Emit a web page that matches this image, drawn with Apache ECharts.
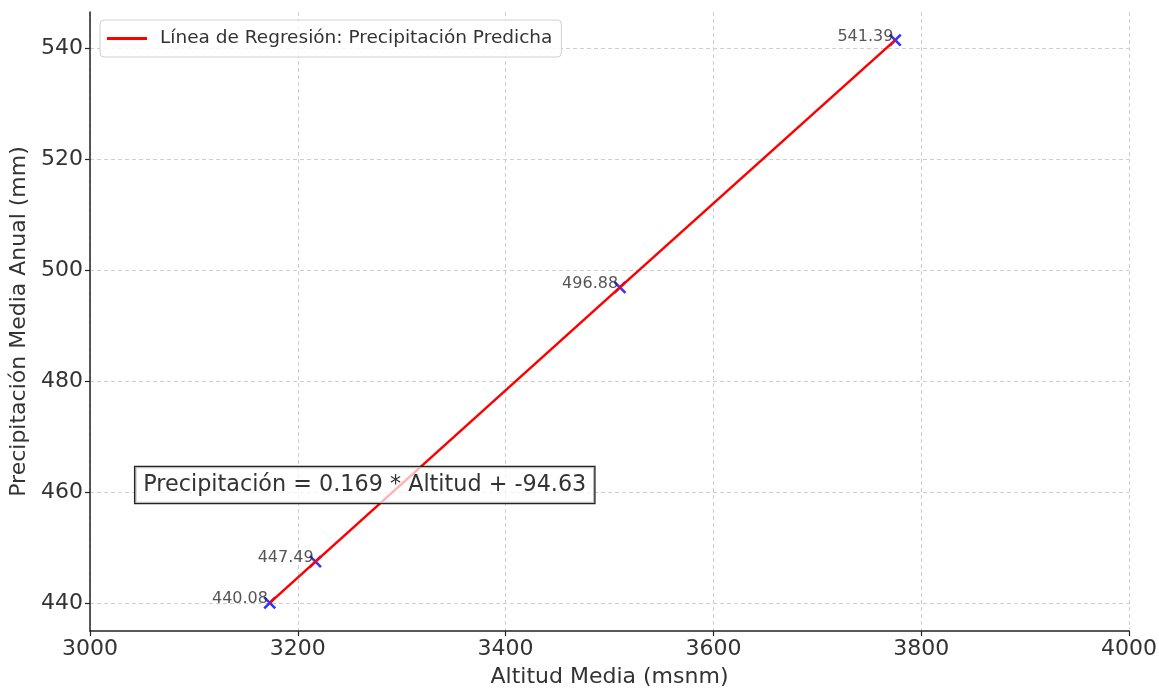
<!DOCTYPE html>
<html>
<head>
<meta charset="utf-8">
<script src="https://cdn.jsdelivr.net/npm/echarts@6/dist/echarts.min.js"></script>
<style>
html,body{margin:0;padding:0;background:#fff;overflow:hidden;}
#chart{width:1159px;height:688px;}
</style>
</head>
<body>
<div id="chart"></div>
<script>
// ---- data ----
var altitudes = [3173, 3217, 3510, 3775];
var precipitation = [440.08, 447.49, 496.88, 541.39];
var xTicks = [3000, 3200, 3400, 3600, 3800, 4000];
var yTicks = [440, 460, 480, 500, 520, 540];
var lineName = 'Línea de Regresión: Precipitación Predicha';
var equationText = 'Precipitación = 0.169 * Altitud + -94.63';
var equationAnchor = [3050, 461];

var FONT = '"DejaVu Sans", sans-serif';
var points = altitudes.map(function (a, i) { return [a, precipitation[i]]; });

var chart = echarts.init(document.getElementById('chart'));
var gridLine = { show: true, lineStyle: { color: '#cfcfcf', width: 1, type: [4, 3] } };

chart.setOption({
  animation: false,
  backgroundColor: '#ffffff',
  grid: { left: 90, right: 30, top: 12, bottom: 57, containLabel: false, outerBoundsMode: 'none' },
  legend: {
    left: 100, top: 20,
    padding: [9, 9, 9, 7],
    borderColor: '#d0d0d0', borderWidth: 1, borderRadius: 4,
    backgroundColor: 'rgba(255,255,255,0.8)',
    itemWidth: 40, itemHeight: 3,
    textStyle: { fontFamily: FONT, fontSize: 18.5, color: '#333', padding: [0, 0, 0, 8] },
    data: [{ name: lineName, icon: 'rect' }]
  },
  xAxis: {
    type: 'value', min: 3000, max: 4000, interval: 200,
    name: 'Altitud Media (msnm)', nameLocation: 'middle', nameGap: 35,
    nameTextStyle: { fontFamily: FONT, fontSize: 22, color: '#333' },
    axisLine: { show: true, lineStyle: { color: '#222', width: 1.5 } },
    axisTick: { show: true, length: 5, lineStyle: { color: '#222', width: 1.2 }, customValues: xTicks },
    axisLabel: { fontFamily: FONT, fontSize: 22, color: '#333', margin: 7, customValues: xTicks,
      formatter: function (v) { return String(v); } },
    splitLine: gridLine
  },
  yAxis: {
    type: 'value', min: 435.01, max: 546.46,
    name: 'Precipitación Media Anual (mm)', nameLocation: 'middle', nameGap: 55,
    nameTextStyle: { fontFamily: FONT, fontSize: 22, color: '#333' },
    axisLine: { show: true, lineStyle: { color: '#222', width: 1.5 } },
    axisTick: { show: true, length: 5, lineStyle: { color: '#222', width: 1.2 }, customValues: yTicks },
    axisLabel: { fontFamily: FONT, fontSize: 22, color: '#333', margin: 7, customValues: yTicks,
      formatter: function (v) { return String(v); } },
    splitLine: gridLine
  },
  series: [
    {
      name: 'Datos',
      type: 'scatter',
      data: points,
      symbol: 'path://M0,0L10,10M10,0L0,10',
      symbolSize: 11,
      itemStyle: { color: 'rgba(0,0,0,0)', borderColor: '#0000ff', borderWidth: 2.6 },
      label: {
        show: true,
        position: [5, 11],
        align: 'right',
        verticalAlign: 'bottom',
        fontFamily: FONT, fontSize: 16, color: '#2a2a2a', lineHeight: 16,
        formatter: function (p) { return p.value[1].toFixed(2); }
      },
      z: 3
    },
    {
      name: lineName,
      type: 'line',
      data: points,
      showSymbol: false,
      symbol: 'none',
      lineStyle: { color: '#ff0000', width: 2.5 },
      itemStyle: { color: '#ff0000' },
      z: 4
    }
  ]
});

var pos = chart.convertToPixel({ gridIndex: 0 }, equationAnchor);
chart.setOption({
  graphic: [{
    type: 'text',
    left: pos[0] - 8,
    top: pos[1] - 21,
    z: 100,
    style: {
      text: equationText,
      fontFamily: FONT, fontSize: 22.3, fill: '#333',
      backgroundColor: 'rgba(255,255,255,0.7)',
      borderColor: '#222', borderWidth: 1.3,
      padding: [7, 8, 7, 8]
    }
  }]
});
</script>
</body>
</html>
